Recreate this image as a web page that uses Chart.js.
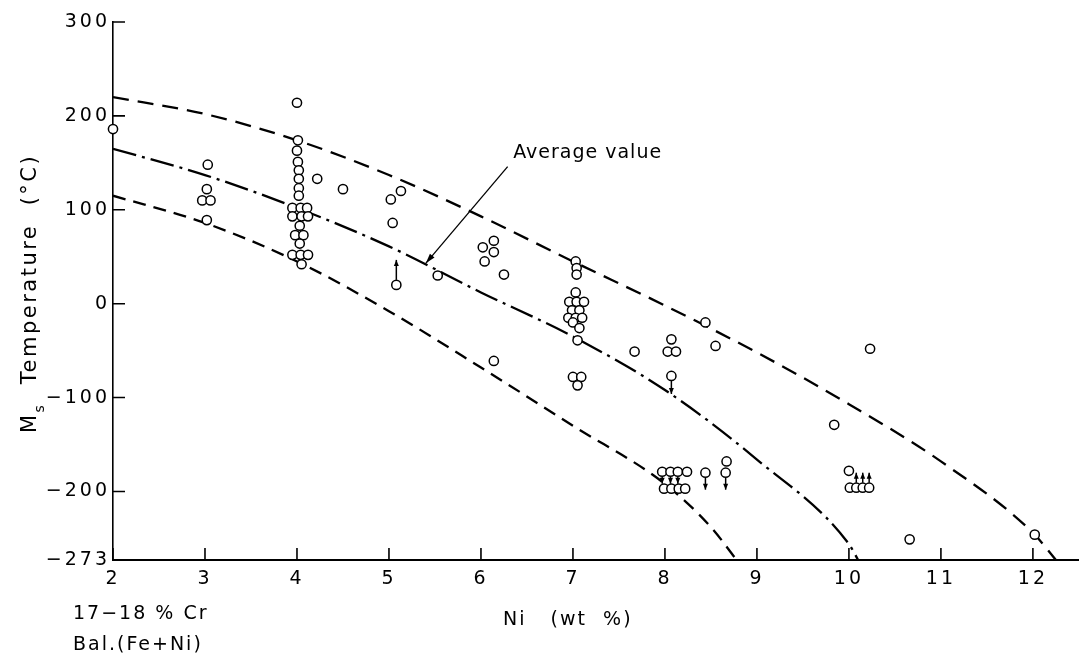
<!DOCTYPE html>
<html><head><meta charset="utf-8">
<script src="https://cdn.jsdelivr.net/npm/chart.js@4.4.0/dist/chart.umd.min.js"></script>
<style>html,body{margin:0;padding:0;background:#fff;}canvas{display:block;}</style>
</head><body>
<canvas id="c" width="1085" height="657"></canvas>
<script>
// ---- axis ticks ----
const xTicks = [2, 3, 4, 5, 6, 7, 8, 9, 10, 11, 12];
const xTickLabels = ['2', '3', '4', '5', '6', '7', '8', '9', '10', '11', '12'];
const yTicks = [-273, -200, -100, 0, 100, 200, 300];
const yTickLabels = ['−273', '−200', '−100', '0', '100', '200', '300'];

// ---- curves ----
const upperNi = [2, 3, 4, 5, 6, 7, 8, 9, 10, 11, 12, 12.25];
const upperT  = [220, 202, 174, 137, 93, 45, -2, -52, -107, -168, -244, -273];
const avgNi   = [2, 3, 4, 5, 6, 7, 8, 9, 10, 10.1];
const avgT    = [165, 137, 102, 61, 12, -35, -92, -166, -256, -273];
const lowerNi = [2, 3, 4, 5, 6, 7, 8, 8.5, 8.78];
const lowerT  = [115, 86, 45, -8, -68, -130, -192, -238, -273];

// ---- measured points ----
const pointNi = [
  2.0,
  3.03, 3.02, 2.97, 3.06, 3.02,
  4.0, 4.01, 4.0, 4.01, 4.02, 4.02, 4.02, 4.02, 4.22, 4.5,
  3.95, 4.04, 4.11, 3.95, 4.05, 4.12, 4.03, 3.98, 4.07, 4.03, 3.95, 4.04, 4.12, 4.05,
  5.13, 5.02, 5.04, 5.08, 5.53,
  6.02, 6.14, 6.14, 6.04, 6.25, 6.14,
  7.03, 7.04, 7.04, 7.03, 6.96, 7.04, 7.12, 6.99, 7.07, 6.95, 7.03, 7.10, 7.0, 7.07, 7.05,
  7.0, 7.09, 7.05,
  7.67, 8.07, 8.03, 8.12, 8.07, 8.44, 8.55, 9.84, 10.23, 8.67, 8.44, 8.66,
  7.97, 8.06, 8.14, 8.24, 7.99, 8.07, 8.15, 8.22,
  10.0, 10.01, 10.08, 10.15, 10.22,
  10.66, 12.02
];
const pointT = [
  186,
  148, 122, 110, 110, 89,
  214, 174, 163, 151, 142, 133, 123, 115, 133, 122,
  102, 102, 102, 93, 93, 93, 83, 73, 73, 64, 52, 52, 52, 42,
  120, 111, 86, 20, 30,
  60, 67, 55, 45, 31, -61,
  45, 38, 31, 12, 2, 2, 2, -7, -7, -15, -15, -15, -20, -26, -39,
  -78, -78, -87,
  -51, -38, -51, -51, -77, -20, -45, -129, -48, -168, -180, -180,
  -179, -179, -179, -179, -197, -197, -197, -197,
  -178, -196, -196, -196, -196,
  -251, -246
];

// ---- arrows attached to points (1 = up, -1 = down) ----
const arrowNi  = [5.08, 8.07, 8.44, 8.66, 10.08, 10.15, 10.22, 7.97, 8.06, 8.14];
const arrowT   = [20, -77, -180, -180, -196, -196, -196, -179, -179, -179];
const arrowDir = [1, -1, -1, -1, 1, 1, 1, -1, -1, -1];
const arrowLen = [20, 13, 12, 12, 10, 10, 10, 7, 7, 7];

// ---- annotation ----
const annotationText = 'Average value';
const annotationTextAt = [6.35, 160];
const annotationFrom = [6.29, 146];
const annotationTo = [5.40, 43];

const yTitleMain = 'M';
const yTitleSub = 's';
const yTitleRest = '  Temperature  (°C)';
const xTitle = 'Ni   (wt  %)';
const noteLine1 = '17−18 % Cr';
const noteLine2 = 'Bal.(Fe+Ni)';

const FONT = '"DejaVu Sans", "Liberation Sans", sans-serif';

const toXY = (xs, ys) => xs.map((v, i) => ({x: v, y: ys[i]}));

function arrowHead(ctx, x, y, dx, dy, len, wid) {
  const n = Math.hypot(dx, dy); const ux = dx / n, uy = dy / n;
  ctx.beginPath();
  ctx.moveTo(x, y);
  ctx.lineTo(x - ux * len - uy * wid, y - uy * len + ux * wid);
  ctx.lineTo(x - ux * len + uy * wid, y - uy * len - ux * wid);
  ctx.closePath(); ctx.fill();
}

const spacingPlugin = {
  id: 'spacing',
  beforeDraw(chart) { chart.ctx.letterSpacing = '3px'; },
  beforeDatasetsDraw(chart) {
    const {ctx, chartArea: a, scales: {x, y}} = chart;
    ctx.letterSpacing = '0px';
    ctx.save();
    ctx.strokeStyle = '#000'; ctx.lineWidth = 1.6;
    ctx.beginPath();
    x.ticks.forEach(t => { const px = x.getPixelForValue(t.value); ctx.moveTo(px, a.bottom); ctx.lineTo(px, a.bottom - 12); });
    y.ticks.forEach(t => { const py = y.getPixelForValue(t.value); ctx.moveTo(a.left, py); ctx.lineTo(a.left + 12, py); });
    ctx.stroke();
    ctx.restore();
  },
  afterDraw(chart) {
    const {ctx, scales: {x, y}} = chart;
    ctx.save();
    ctx.fillStyle = '#000'; ctx.strokeStyle = '#000';
    ctx.lineWidth = 1.5;
    arrowNi.forEach((v, i) => {
      const px = x.getPixelForValue(v), py = y.getPixelForValue(arrowT[i]);
      const d = -arrowDir[i];
      const y0 = py + d * 5, y1 = py + d * (5 + arrowLen[i]);
      ctx.beginPath(); ctx.moveTo(px, y0); ctx.lineTo(px, y1); ctx.stroke();
      arrowHead(ctx, px, y1, 0, d, 6, 2.5);
    });
    const fx = x.getPixelForValue(annotationFrom[0]), fy = y.getPixelForValue(annotationFrom[1]);
    const tx = x.getPixelForValue(annotationTo[0]), ty = y.getPixelForValue(annotationTo[1]);
    ctx.lineWidth = 1.3;
    ctx.beginPath(); ctx.moveTo(fx, fy); ctx.lineTo(tx, ty); ctx.stroke();
    arrowHead(ctx, tx, ty, tx - fx, ty - fy, 10, 3);
    ctx.letterSpacing = '1px';
    ctx.font = '19px ' + FONT;
    ctx.textAlign = 'left'; ctx.textBaseline = 'middle';
    ctx.fillText(annotationText, x.getPixelForValue(annotationTextAt[0]), y.getPixelForValue(annotationTextAt[1]));
    ctx.letterSpacing = '2px';
    ctx.fillText(xTitle, 503, 620);
    ctx.fillText(noteLine1, 73, 614);
    ctx.fillText(noteLine2, 73, 645);
    ctx.save();
    ctx.translate(31, 433);
    ctx.rotate(-Math.PI / 2);
    ctx.textBaseline = 'middle';
    ctx.letterSpacing = '2.5px';
    ctx.font = '21px ' + FONT;
    ctx.fillText(yTitleMain, 0, 0);
    const wM = ctx.measureText(yTitleMain).width;
    ctx.font = '14px ' + FONT;
    ctx.fillText(yTitleSub, wM, 9);
    const wS = ctx.measureText(yTitleSub).width;
    ctx.font = '21px ' + FONT;
    ctx.fillText(yTitleRest, wM + wS, 0);
    ctx.restore();
    ctx.restore();
    ctx.letterSpacing = '0px';
  }
};

new Chart(document.getElementById('c'), {
  type: 'scatter',
  data: {
    datasets: [
      {
        data: toXY(pointNi, pointT), order: 0, clip: false,
        pointStyle: 'circle', pointRadius: 4.6, pointBorderWidth: 1.5,
        pointBackgroundColor: '#fff', pointBorderColor: '#000', showLine: false
      },
      {
        data: toXY(upperNi, upperT), order: 1, showLine: true, pointRadius: 0,
        borderColor: '#000', borderWidth: 2.3, borderDash: [16, 9], cubicInterpolationMode: 'monotone'
      },
      {
        data: toXY(avgNi, avgT), order: 1, showLine: true, pointRadius: 0,
        borderColor: '#000', borderWidth: 2.3, borderDash: [24, 6, 3, 6], cubicInterpolationMode: 'monotone'
      },
      {
        data: toXY(lowerNi, lowerT), order: 1, showLine: true, pointRadius: 0,
        borderColor: '#000', borderWidth: 2.3, borderDash: [13, 8], cubicInterpolationMode: 'monotone'
      }
    ]
  },
  options: {
    responsive: false, animation: false, devicePixelRatio: 1,
    layout: {padding: {top: 22, right: 0, left: 0, bottom: 0}},
    plugins: {legend: {display: false}, tooltip: {enabled: false}},
    scales: {
      x: {
        type: 'linear', min: 2, max: 12.5,
        afterBuildTicks: s => { s.ticks = xTicks.map(v => ({value: v})); },
        afterFit: s => { s.height = 97; },
        grid: {display: true, drawOnChartArea: false, drawTicks: false},
        border: {display: true, color: '#000', width: 2},
        ticks: {
          color: '#000', padding: 8, maxRotation: 0, autoSkip: false,
          font: {family: FONT, size: 19},
          callback: v => xTickLabels[xTicks.indexOf(v)]
        }
      },
      y: {
        type: 'linear', min: -273, max: 300,
        afterBuildTicks: s => { s.ticks = yTicks.map(v => ({value: v})); },
        afterFit: s => { s.width = 113; },
        grid: {display: true, drawOnChartArea: false, drawTicks: false},
        border: {display: true, color: '#000', width: 1.6},
        ticks: {
          color: '#000', padding: 3, autoSkip: false,
          font: {family: FONT, size: 19},
          callback: v => yTickLabels[yTicks.indexOf(v)]
        }
      }
    }
  },
  plugins: [spacingPlugin]
});
</script>
</body></html>
